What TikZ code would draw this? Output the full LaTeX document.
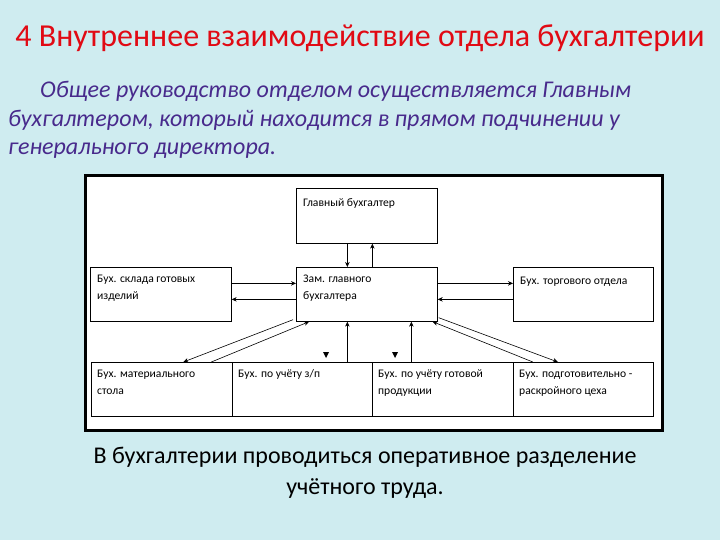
\documentclass[tikz,border=0pt]{standalone}
\usepackage{fontspec}
\setmainfont{Carlito}
\usetikzlibrary{arrows.meta,calc}
\definecolor{bg}{RGB}{207,236,240}
\definecolor{titlered}{RGB}{225,10,20}
\definecolor{subviolet}{RGB}{72,42,140}
\begin{document}
\begin{tikzpicture}[x=1pt,y=-1pt,
  box/.style={draw, line width=0.7pt, fill=white, minimum width=141pt, minimum height=54pt, anchor=north west, inner sep=0pt},
  lbl/.style={anchor=north west, align=left, inner sep=0pt, font=\fontsize{11.6}{17}\selectfont},
  intro/.style={text=subviolet, font=\fontsize{24}{29}\selectfont\itshape, anchor=base west, inner sep=0pt},
  arr/.style={line width=0.6pt, -{Stealth[length=5pt,width=4.5pt]}}]
\fill[bg] (0,0) rectangle (720,540);
\useasboundingbox (0,0) rectangle (720,540);
% title and texts
\node[text=titlered, font=\fontsize{32}{36}\selectfont, inner sep=0pt] (title) at (360,38) {4 Внутреннее взаимодействие отдела бухгалтерии};
\node[intro] (intro1) at (40,98) {Общее руководство отделом осуществляется Главным};
\node[intro] (intro2) at (8,127) {бухгалтером, который находится в прямом подчинении у};
\node[intro] (intro3) at (8,155) {генерального директора.};
\node[font=\fontsize{24}{31}\selectfont, align=center, inner sep=0pt] (note) at (365,473)
  {В бухгалтерии проводиться оперативное разделение\\учётного труда.};
% frame
\node[draw, line width=3pt, fill=white, minimum width=577pt, minimum height=255pt, anchor=north west, inner sep=0pt] (frame) at (84,174) {};
% boxes
\node[box, minimum height=55pt] (top) at (296,188) {};
\node[box] (mid) at (296,267) {};
\node[box] (left) at (90,267) {};
\node[box, minimum width=140pt] (right) at (513,267) {};
\node[box] (b1) at (91,362) {};
\node[box, minimum width=140pt] (b2) at (232,362) {};
\node[box] (b3) at (372,362) {};
\node[box, minimum width=140pt] (b4) at (513,362) {};
% labels
\node[lbl] (ttop) at ([xshift=7pt,yshift=-6.5pt]top.north west) {\strut Главный бухгалтер};
\node[lbl] (tmid) at ([xshift=7pt,yshift=-3.5pt]mid.north west) {\strut Зам. главного\\бухгалтера};
\node[lbl] (tleft) at ([xshift=7pt,yshift=-3.5pt]left.north west) {\strut Бух. склада готовых\\изделий};
\node[lbl] (tright) at ([xshift=7pt,yshift=-5.5pt]right.north west) {\strut Бух. торгового отдела};
\node[lbl] (tb1) at ([xshift=6pt,yshift=-3.5pt]b1.north west) {\strut Бух. материального\\стола};
\node[lbl] (tb2) at ([xshift=6pt,yshift=-3.5pt]b2.north west) {\strut Бух. по учёту з/п};
\node[lbl] (tb3) at ([xshift=6pt,yshift=-3.5pt]b3.north west) {\strut Бух. по учёту готовой\\продукции};
\node[lbl] (tb4) at ([xshift=6pt,yshift=-3.5pt]b4.north west) {\strut Бух. подготовительно -\\раскройного цеха};
% connectors
\draw[arr] ([xshift=-19.5pt]top.south) -- ([xshift=-19.5pt]mid.north);
\draw[arr] ([xshift=5.5pt]mid.north) -- ([xshift=5.5pt]top.south);
\draw[arr] ([yshift=11pt]left.east) -- ([yshift=11pt]mid.west);
\draw[arr] ([yshift=-5pt]mid.west) -- ([yshift=-5pt]left.east);
\draw[arr] ([yshift=11pt]mid.east) -- ([yshift=11pt]right.west);
\draw[arr] ([yshift=-5pt]right.west) -- ([yshift=-5pt]mid.east);
\draw[arr] ([xshift=45pt]b2.north) -- ([xshift=-19.5pt]mid.south);
\draw[arr] ([xshift=-31.5pt]b3.north) -- ([xshift=44.5pt]mid.south);
\draw[arr] ([xshift=-3pt,yshift=2pt]mid.south west) -- ([xshift=21.5pt]b1.north);
\draw[arr] ([xshift=49.5pt]b1.north) -- ([xshift=13pt]mid.south west);
\draw[arr] ([xshift=1pt,yshift=4pt]mid.south east) -- ([xshift=-25.5pt]b4.north);
\draw[arr] ([xshift=-50.5pt]b4.north) -- ([xshift=-5pt]mid.south east);
% loose arrowheads
\fill (323,352) -- (329,352) -- (326,358) -- cycle;
\fill (392,352) -- (398,352) -- (395,358) -- cycle;
\end{tikzpicture}
\end{document}
